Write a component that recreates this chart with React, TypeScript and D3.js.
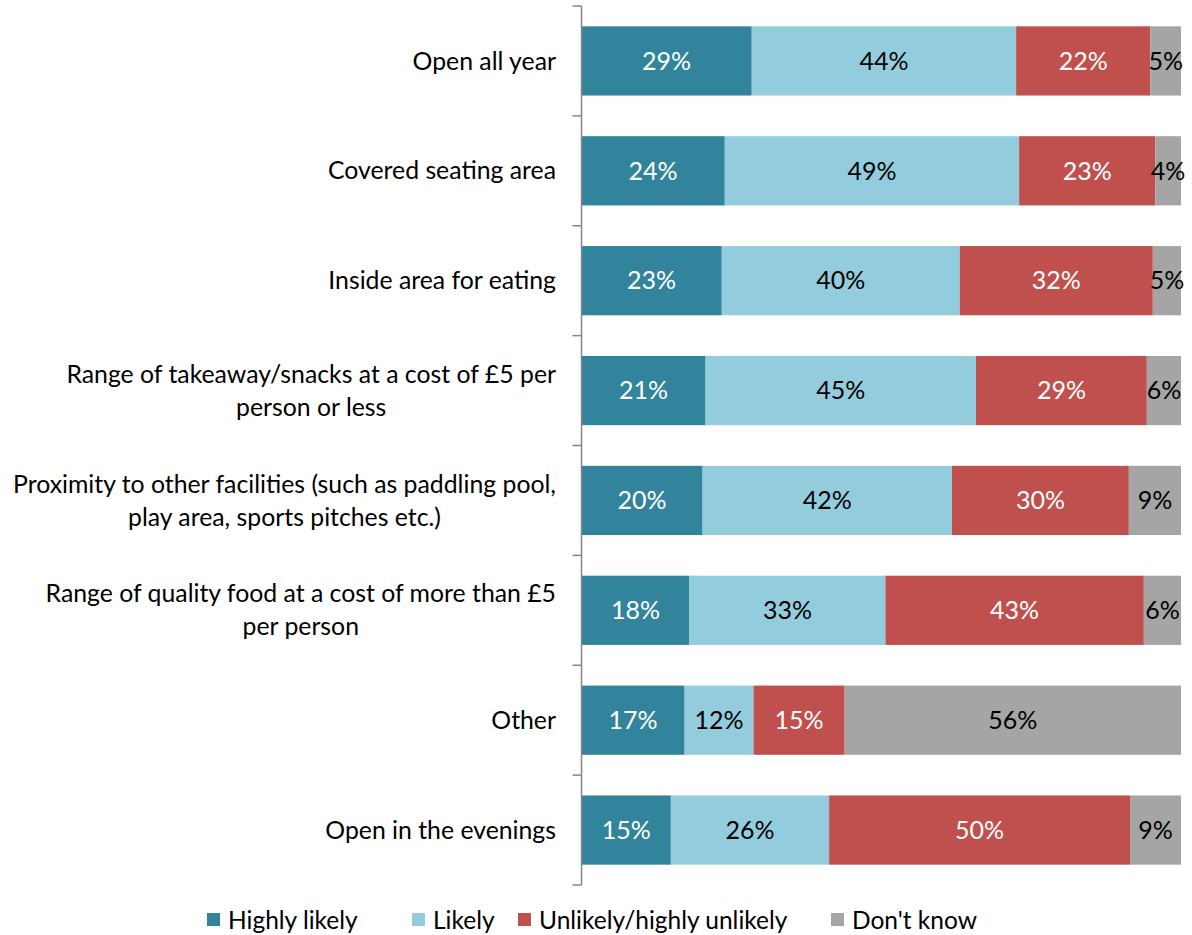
import React, { useEffect, useRef } from "react";
import * as d3 from "d3";

const categories: string[][] = [
  ["Open all year"],
  ["Covered seating area"],
  ["Inside area for eating"],
  ["Range of takeaway/snacks at a cost of £5 per", "person or less"],
  ["Proximity to other facilities (such as paddling pool,", "play area, sports pitches etc.)"],
  ["Range of quality food at a cost of more than £5", "per person"],
  ["Other"],
  ["Open in the evenings"],
];
const seriesNames = ["Highly likely", "Likely", "Unlikely/highly unlikely", "Don't know"];
const highlyLikely = [28.4, 23.9, 23.4, 20.7, 20.2, 18.0, 17.2, 14.9];
const likely = [44.1, 49.1, 39.7, 45.1, 41.6, 32.7, 11.5, 26.4];
const unlikely = [22.4, 22.7, 32.2, 28.5, 29.5, 43.1, 15.2, 50.2];
const dontKnow = [5.1, 4.3, 4.7, 5.7, 8.7, 6.2, 56.1, 8.5];
const labelHighly = ["29%", "24%", "23%", "21%", "20%", "18%", "17%", "15%"];
const labelLikely = ["44%", "49%", "40%", "45%", "42%", "33%", "12%", "26%"];
const labelUnlikely = ["22%", "23%", "32%", "29%", "30%", "43%", "15%", "50%"];
const labelDontKnow = ["5%", "4%", "5%", "6%", "9%", "6%", "56%", "9%"];

const colors = ["#31849B", "#93CDDD", "#C0504D", "#A5A5A5"];
const textColors = ["#ffffff", "#000000", "#ffffff", "#000000"];
const FONT = "Lato, 'Open Sans', sans-serif";

export default function App() {
  const ref = useRef<SVGSVGElement>(null);
  useEffect(() => {
    const svg = d3.select(ref.current);
    svg.selectAll("*").remove();
    const left = 581.5, right = 1181, top = 6, bottom = 885;
    const series = [highlyLikely, likely, unlikely, dontKnow];
    const labels = [labelHighly, labelLikely, labelUnlikely, labelDontKnow];
    const idx = categories.map((_, i) => i);
    const y = d3.scaleBand<number>().domain(idx).range([top, bottom]).paddingInner(0.37).paddingOuter(0.185);
    const x = d3.scaleLinear().domain([0, 100]).range([left, right]);

    const rows = idx.map((i) => {
      const vals = series.map((s) => s[i]);
      const tot = d3.sum(vals);
      let acc = 0;
      return vals.map((v, k) => {
        const x0 = (acc / tot) * 100;
        acc += v;
        return { i, k, x0, x1: (acc / tot) * 100, label: labels[k][i] };
      });
    });

    const g = svg.append("g");
    rows.flat().forEach((d) => {
      g.append("rect")
        .attr("x", x(d.x0))
        .attr("y", y(d.i)!)
        .attr("width", x(d.x1) - x(d.x0))
        .attr("height", y.bandwidth())
        .attr("fill", colors[d.k]);
    });
    rows.flat().forEach((d) => {
      g.append("text")
        .attr("x", (x(d.x0) + x(d.x1)) / 2)
        .attr("y", y(d.i)! + y.bandwidth() / 2)
        .attr("dy", "0.35em")
        .attr("text-anchor", "middle")
        .attr("font-family", FONT)
        .attr("font-size", 25)
        .attr("fill", textColors[d.k])
        .text(d.label);
    });

    // axis
    const axisColor = "#868686";
    svg.append("line").attr("x1", left).attr("x2", left).attr("y1", top).attr("y2", bottom)
      .attr("stroke", axisColor).attr("stroke-width", 1.5);
    const step = (bottom - top) / categories.length;
    d3.range(categories.length + 1).forEach((j) => {
      const yy = top + j * step;
      svg.append("line").attr("x1", left - 9).attr("x2", left).attr("y1", yy).attr("y2", yy)
        .attr("stroke", axisColor).attr("stroke-width", 1.5);
    });

    // category labels
    const labelRight = 556;
    const lineH = 33;
    categories.forEach((lines, i) => {
      const cy = y(i)! + y.bandwidth() / 2;
      const t = svg.append("text")
        .attr("font-family", FONT)
        .attr("font-size", 24.8)
        .attr("fill", "#000")
        .attr("text-anchor", "middle");
      const spans = lines.map((ln, j) =>
        t.append("tspan")
          .attr("y", cy + (j - (lines.length - 1) / 2) * lineH)
          .attr("dy", "0.35em")
          .text(ln)
      );
      const maxW = d3.max(spans, (s) => (s.node() as SVGTextContentElement).getComputedTextLength()) || 0;
      spans.forEach((s) => s.attr("x", labelRight - maxW / 2));
    });

    // legend
    const legendItems = [
      { x: 207, k: 0 },
      { x: 412, k: 1 },
      { x: 518, k: 2 },
      { x: 831, k: 3 },
    ];
    const ly = 920;
    legendItems.forEach((it) => {
      svg.append("rect").attr("x", it.x).attr("y", ly - 7).attr("width", 13).attr("height", 13)
        .attr("fill", colors[it.k]);
      svg.append("text").attr("x", it.x + 21).attr("y", ly).attr("dy", "0.35em")
        .attr("font-family", FONT).attr("font-size", 24.5).attr("fill", "#000")
        .text(seriesNames[it.k]);
    });
  }, []);
  return (
    <svg ref={ref} width={1192} height={935}
      style={{ position: "absolute", left: 0, top: 0, background: "#fff" }} />
  );
}
